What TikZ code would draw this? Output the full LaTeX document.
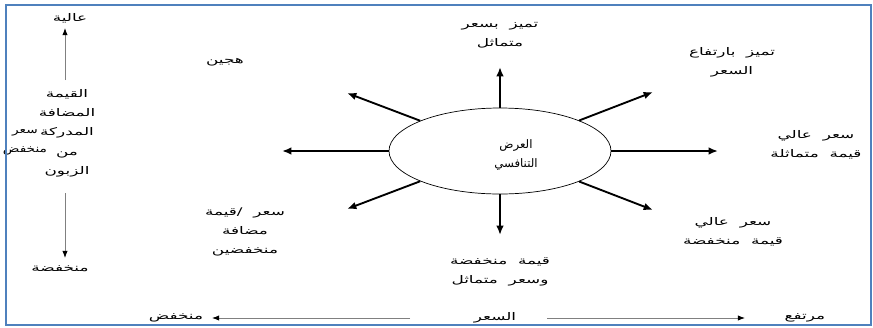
\documentclass[tikz,border=0pt]{standalone}
\usepackage{fontspec}
\newfontfamily\arabicfont[Script=Arabic]{DejaVu Sans}
\newfontfamily\arabicwide[Script=Arabic,FakeStretch=1.6,WordSpace=2]{DejaVu Sans}
\newfontfamily\arabicmid[Script=Arabic,FakeStretch=1.3]{DejaVu Sans}
\TeXXeTstate=1
\newcommand{\rl}[1]{\beginR #1\endR}
\usepackage{tikz}
\usetikzlibrary{arrows.meta,shapes,calc}
\definecolor{frameblue}{RGB}{79,129,189}
\tikzset{
	lbl/.style={font=\arabicwide\fontsize{9}{16.5}\selectfont,align=center,inner sep=1pt},
	core/.style={font=\arabicfont\fontsize{10}{17}\selectfont,align=center,inner sep=1pt},
	spoke/.style={line width=1.6pt,-{Latex[length=8pt,width=6.5pt]}},
	axis/.style={draw=gray,line width=0.8pt,-{Latex[length=6pt,width=4.5pt,color=black]}}
}

\begin{document}
\begin{tikzpicture}[x=0.03cm,y=-0.03cm]
	\useasboundingbox (0,0) rectangle (873,327);
	
	\node[draw,ellipse,line width=0.6pt,minimum width=6.66cm,minimum height=2.58cm] (offer) at (500,151) {};
	\node[core] (offertxt) at (516,155) {\rl{العرض}\\\rl{التنافسي}};
	
	\coordinate (tN) at (500,67);
	\coordinate (tNE) at (653,92);
	\coordinate (tE) at (718,151);
	\coordinate (tSE) at (653,210);
	\coordinate (tS) at (500,235);
	\coordinate (tSW) at (347,209);
	\coordinate (tW) at (282,151);
	\coordinate (tNW) at (347,93);
	\draw[spoke] (offer) -- (tN);
	\draw[spoke] (offer) -- (tNE);
	\draw[spoke] (offer) -- (tE);
	\draw[spoke] (offer) -- (tSE);
	\draw[spoke] (offer) -- (tS);
	\draw[spoke] (offer) -- (tSW);
	\draw[spoke] (offer) -- (tW);
	\draw[spoke] (offer) -- (tNW);
	
	\node[lbl] (hybrid) at (225,62) {\rl{هجين}};
	\node[lbl] (diffsame) at (500,35) {\rl{تميز بسعر}\\\rl{متماثل}};
	\node[lbl] (diffhigh) at (732,62) {\rl{تميز بارتفاع}\\\rl{السعر}};
	\node[lbl] (highsame) at (816,145) {\rl{سعر عالي}\\\rl{قيمة متماثلة}};
	\node[lbl] (highlow) at (733,232) {\rl{سعر عالي}\\\rl{قيمة منخفضة}};
	\node[lbl] (lowsame) at (500,272) {\rl{قيمة منخفضة}\\\rl{وسعر متماثل}};
	\node[lbl] (lowlow) at (245,232) {\rl{سعر /قيمة}\\\rl{مضافة}\\\rl{منخفضين}};
	
	% vertical axis
	\node[lbl] (valaxis) at (67,133) {\rl{القيمة}\\\rl{المضافة}\\\rl{المدركة}\\\rl{من}\\\rl{الزبون}};
	\node[lbl,font=\arabicmid\fontsize{9}{16.5}\selectfont] (lowprice) at (25,142) {\rl{سعر}\\\rl{منخفض}};
	\node[lbl] (high) at (70,18) {\rl{عالية}};
	\node[lbl] (low) at (60,269) {\rl{منخفضة}};
	\coordinate (vU) at (65,80);
	\coordinate (vUt) at (65,28);
	\coordinate (vD) at (65,193);
	\coordinate (vDt) at (65,258);
	\draw[axis] (vU) -- (vUt);
	\draw[axis] (vD) -- (vDt);
	
	% horizontal axis
	\node[lbl] (pricelow) at (176,318) {\rl{منخفض}};
	\node[lbl] (price) at (495,318) {\rl{السعر}};
	\node[lbl] (pricehigh) at (805,318) {\rl{مرتفع}};
	\coordinate (pL) at (410,318);
	\coordinate (pLt) at (212,318);
	\coordinate (pR) at (547,318);
	\coordinate (pRt) at (745,318);
	\draw[axis] (pL) -- (pLt);
	\draw[axis] (pR) -- (pRt);
	
	\draw[frameblue,line width=2.4pt] (6,5) rectangle (871,325);
\end{tikzpicture}
\end{document}
